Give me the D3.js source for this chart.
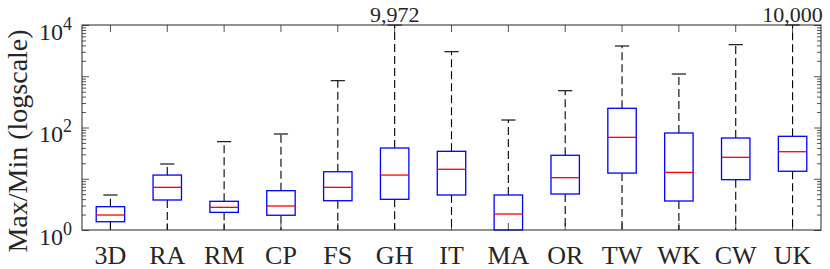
<!DOCTYPE html>
<html>
<head>
<meta charset="utf-8">
<script src="https://cdn.jsdelivr.net/npm/d3@7"></script>
<style>
  body { margin: 0; background: #fff; }
  text { font-family: "Liberation Serif", "Times New Roman", Times, serif; fill: #262626; }
</style>
</head>
<body>
<svg id="chart" width="830" height="269"></svg>
<script>
// categories and box statistics
var categories = ["3D", "RA", "RM", "CP", "FS", "GH", "IT", "MA", "OR", "TW", "WK", "CW", "UK"];
var lowerWhisker = [1, 1, 1, 1, 1, 1, 1, 1, 1, 1, 1, 1, 1];
var q1 = [1.45, 3.85, 2.21, 1.94, 3.73, 3.97, 4.82, 1, 5.04, 12.9, 3.68, 9.59, 14.0];
var medians = [1.96, 6.8, 2.77, 2.94, 6.8, 11.8, 15.3, 2.05, 10.5, 64.3, 13.3, 26.2, 33.7];
var q3 = [2.85, 11.8, 3.63, 5.85, 13.7, 39.8, 34.3, 4.82, 28.7, 237, 78.1, 62.4, 67.3];
var upperWhisker = [4.82, 19.4, 52.9, 74.7, 819, 9972, 3013, 140, 522, 3893, 1106, 4130, 10000];
// maxima printed above the axes
var maxLabels = [null, null, null, null, null, "9,972", null, null, null, null, null, null, "10,000"];
var yMajor = [1, 10, 100, 1000, 10000];
var yLabeled = [0, 2, 4];

var svg = d3.select("#chart");
var margin = {left: 82, right: 821, top: 25, bottom: 230};

var x = d3.scaleBand().domain(categories).range([margin.left, margin.right]);
var y = d3.scaleLog().domain([1, 10000]).range([margin.bottom, margin.top]);

var boxW = x.bandwidth() * 0.5;
var capW = boxW * 0.5;

var data = categories.map(function(c, i) {
    return {cat: c, lo: lowerWhisker[i], q1: q1[i], med: medians[i], q3: q3[i], hi: upperWhisker[i], label: maxLabels[i]};
});

// minor ticks (2..9 of each decade)
var minor = y.ticks().filter(function(v) { return yMajor.indexOf(v) < 0; });

var axisColor = "#262626";

function styleAxis(g) {
    g.select(".domain").remove();
    g.selectAll("line").attr("stroke", axisColor).attr("stroke-width", 0.8);
}

// y axes, ticks inward on both sides
svg.append("g").attr("transform", "translate(" + margin.left + ",0)")
    .call(d3.axisLeft(y).tickValues(yMajor).tickSize(-7).tickFormat(""))
    .call(styleAxis);
svg.append("g").attr("transform", "translate(" + margin.left + ",0)")
    .call(d3.axisLeft(y).tickValues(minor).tickSize(-4).tickFormat(""))
    .call(styleAxis);
svg.append("g").attr("transform", "translate(" + margin.right + ",0)")
    .call(d3.axisRight(y).tickValues(yMajor).tickSize(-7).tickFormat(""))
    .call(styleAxis);
svg.append("g").attr("transform", "translate(" + margin.right + ",0)")
    .call(d3.axisRight(y).tickValues(minor).tickSize(-4).tickFormat(""))
    .call(styleAxis);

// x axes, ticks inward top and bottom
svg.append("g").attr("transform", "translate(0," + margin.bottom + ")")
    .call(d3.axisBottom(x).tickSize(-7).tickFormat(""))
    .call(styleAxis);
svg.append("g").attr("transform", "translate(0," + margin.top + ")")
    .call(d3.axisTop(x).tickSize(-7).tickFormat(""))
    .call(styleAxis);

var boxes = svg.selectAll(".box").data(data).enter().append("g").attr("class", "box");

function cx(d) { return x(d.cat) + x.bandwidth() / 2; }

// whiskers
boxes.append("line")
    .attr("x1", cx).attr("x2", cx)
    .attr("y1", function(d) { return y(d.q3); })
    .attr("y2", function(d) { return y(d.hi); })
    .attr("stroke", "#000").attr("stroke-width", 1.1).attr("stroke-dasharray", "8,4");
boxes.append("line")
    .attr("x1", cx).attr("x2", cx)
    .attr("y1", function(d) { return y(d.q1); })
    .attr("y2", function(d) { return y(d.lo); })
    .attr("stroke", "#000").attr("stroke-width", 1.1).attr("stroke-dasharray", "8,4");

// caps
boxes.append("line")
    .attr("x1", function(d) { return cx(d) - capW / 2; })
    .attr("x2", function(d) { return cx(d) + capW / 2; })
    .attr("y1", function(d) { return y(d.hi); })
    .attr("y2", function(d) { return y(d.hi); })
    .attr("stroke", "#000").attr("stroke-width", 1.1);

// box
boxes.append("rect")
    .attr("x", function(d) { return cx(d) - boxW / 2; })
    .attr("width", boxW)
    .attr("y", function(d) { return y(d.q3); })
    .attr("height", function(d) { return y(d.q1) - y(d.q3); })
    .attr("fill", "none").attr("stroke", "#0000ff").attr("stroke-width", 1.3);

// median
boxes.append("line")
    .attr("x1", function(d) { return cx(d) - boxW / 2; })
    .attr("x2", function(d) { return cx(d) + boxW / 2; })
    .attr("y1", function(d) { return y(d.med); })
    .attr("y2", function(d) { return y(d.med); })
    .attr("stroke", "#ff0000").attr("stroke-width", 1.3);

// frame
svg.append("rect")
    .attr("x", margin.left).attr("y", margin.top)
    .attr("width", margin.right - margin.left).attr("height", margin.bottom - margin.top)
    .attr("fill", "none").attr("stroke", axisColor).attr("stroke-width", 1);

// max labels above top axis
svg.selectAll(".maxlab").data(data.filter(function(d) { return d.label; })).enter()
    .append("text").attr("class", "maxlab")
    .attr("x", cx)
    .attr("y", 22)
    .attr("text-anchor", "middle")
    .attr("font-size", 22)
    .text(function(d) { return d.label; });

// category labels
svg.selectAll(".catlab").data(categories).enter()
    .append("text").attr("class", "catlab")
    .attr("x", function(d) { return x(d) + x.bandwidth() / 2; })
    .attr("y", 264)
    .attr("text-anchor", "middle")
    .attr("font-size", 26)
    .text(function(d) { return d; });

// y tick labels 10^n
var yl = svg.selectAll(".ylab").data(yLabeled).enter()
    .append("text").attr("class", "ylab")
    .attr("x", 72)
    .attr("y", function(d) { return y(Math.pow(10, d)) + 14.5; })
    .attr("text-anchor", "end")
    .attr("font-size", 24);
yl.append("tspan").text("10");
yl.append("tspan").attr("dy", -10).attr("font-size", 18).text(function(d) { return d; });

// y axis title
svg.append("text")
    .attr("transform", "translate(27,141) rotate(-90)")
    .attr("text-anchor", "middle")
    .attr("font-size", 28)
    .text("Max/Min (logscale)");
</script>
</body>
</html>
